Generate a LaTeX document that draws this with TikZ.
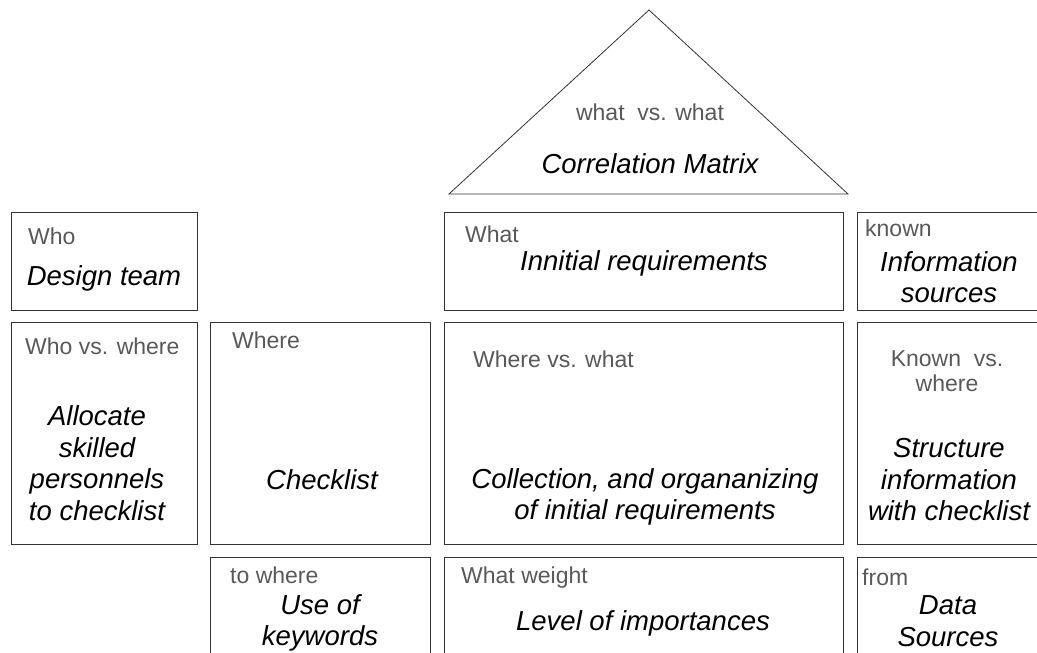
\documentclass[tikz,border=0pt]{standalone}
\usepackage{fontspec}
\setmainfont{Liberation Sans}
\usepackage{tikz}
\usetikzlibrary{positioning}
\definecolor{labelgray}{HTML}{595959}
\definecolor{edgegray}{HTML}{333333}

\begin{document}
\begin{tikzpicture}[
      x=1pt, y=-1pt,
      cell/.style={draw=edgegray, line width=1pt, inner sep=0pt, anchor=north west},
      tag/.style={text=labelgray, font=\fontsize{23}{25}\selectfont, inner sep=0pt, align=center},
      item/.style={font=\fontsize{27.5}{31.5}\selectfont\itshape, align=center, inner sep=0pt}
    ]
    \useasboundingbox (0,0) rectangle (1037,653);
    \clip (0,0) rectangle (1037,653);

    % Roof
    \coordinate (apex) at (649,10);
    \coordinate (roofleft) at (449,194);
    \coordinate (roofright) at (848,194);
    \draw[edgegray, line width=0.8pt] (apex) -- (roofright) -- (roofleft) -- cycle;
    \node[tag] (roofvs) at (650,112) {what~ vs. what};
    \node[item] (correlation) at (650,164) {Correlation Matrix};

    % Boxes
    \node[cell, minimum width=186pt, minimum height=98pt] (who) at (11,212) {};
    \node[cell, minimum width=399pt, minimum height=98pt] (what) at (444,212) {};
    \node[cell, minimum width=184pt, minimum height=98pt] (known) at (857,212) {};
    \node[cell, minimum width=186pt, minimum height=222pt] (whowhere) at (11,322) {};
    \node[cell, minimum width=220pt, minimum height=222pt] (where) at (210,322) {};
    \node[cell, minimum width=399pt, minimum height=222pt] (wherewhat) at (444,322) {};
    \node[cell, minimum width=184pt, minimum height=222pt] (knownwhere) at (857,322) {};
    \node[cell, minimum width=220pt, minimum height=111pt] (towhere) at (210,557) {};
    \node[cell, minimum width=399pt, minimum height=111pt] (weight) at (444,557) {};
    \node[cell, minimum width=184pt, minimum height=111pt] (from) at (857,557) {};

    % Labels
    \node[tag, below right=16pt and 17pt of who.north west] (whotag) {Who};
    \node[tag, below right=14pt and 21pt of what.north west] (whattag) {What};
    \node[tag, below right=8pt and 8pt of known.north west] (knowntag) {known};
    \node[tag, below right=16pt and 14pt of whowhere.north west] (whowheretag) {Who vs. where};
    \node[tag, below right=10pt and 22pt of where.north west] (wheretag) {Where};
    \node[tag, below right=29pt and 29pt of wherewhat.north west] (wherewhattag) {Where vs. what};
    \node[tag] (knownwheretag) at (947,371) {Known~ vs.\\where};
    \node[tag, below right=10pt and 20pt of towhere.north west] (towheretag) {to where};
    \node[tag, below right=10pt and 17pt of weight.north west] (weighttag) {What weight};
    \node[tag, below right=12pt and 5pt of from.north west] (fromtag) {from};

    % Contents
    \node[item] (team) at (104,278) {Design team};
    \node[item] (initial) at (644,263) {Innitial requirements};
    \node[item] (sources) at (949,277) {Information\\sources};
    \node[item] (allocate) at (97,463) {Allocate\\skilled\\personnels\\to checklist};
    \node[item] (checklist) at (322,480) {Checklist};
    \node[item] (collection) at (645,497) {Collection, and organanizing\\of initial requirements};
    \node[item] (structure) at (949,480) {Structure\\information\\with checklist};
    \node[item] (keywords) at (320,623) {Use of\\keywords};
    \node[item] (importance) at (643,623) {Level of importances};
    \node[item] (datasources) at (948,621) {Data\\Sources};
  \end{tikzpicture}
\end{document}
